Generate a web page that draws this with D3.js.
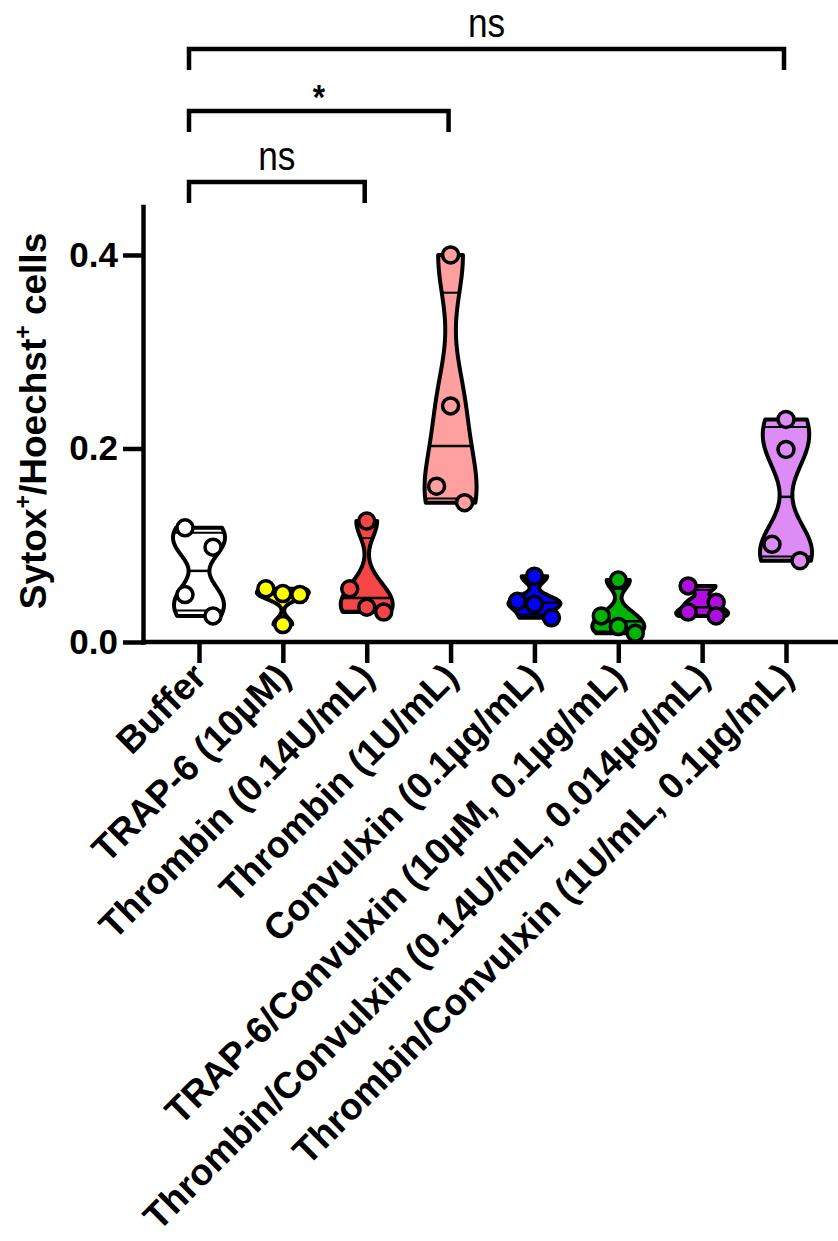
<!DOCTYPE html>
<html>
<head>
<meta charset="utf-8">
<script src="https://cdn.jsdelivr.net/npm/d3@7"></script>
<style>
  body { margin: 0; background: #fff; }
  svg { display: block; font-family: "Liberation Sans", Arial, sans-serif; }
</style>
</head>
<body>
<svg id="chart" width="838" height="1241"></svg>
<script>
// groups on the x axis
const categories = [
  "Buffer",
  "TRAP-6 (10µM)",
  "Thrombin (0.14U/mL)",
  "Thrombin (1U/mL)",
  "Convulxin (0.1µg/mL)",
  "TRAP-6/Convulxin (10µM, 0.1µg/mL)",
  "Thrombin/Convulxin (0.14U/mL, 0.014µg/mL)",
  "Thrombin/Convulxin (1U/mL, 0.1µg/mL)"
];
const fills = ["#ffffff", "#ffff00", "#f54545", "#ffa0a0", "#0000ff", "#00b400", "#b00ee0", "#dd8cf5"];

// Sytox+/Hoechst+ fraction per replicate
const buffer       = [0.118, 0.098, 0.049, 0.027];
const trap6        = [0.055, 0.050, 0.049, 0.018];
const thrombinLow  = [0.125, 0.055, 0.036, 0.031];
const thrombinHigh = [0.400, 0.244, 0.161, 0.144];
const convulxin    = [0.068, 0.042, 0.039, 0.025];
const trapConv     = [0.064, 0.027, 0.016, 0.009];
const thrConvLow   = [0.058, 0.041, 0.031, 0.027];
const thrConvHigh  = [0.230, 0.199, 0.101, 0.084];
const groups = [buffer, trap6, thrombinLow, thrombinHigh, convulxin, trapConv, thrConvLow, thrConvHigh];

const yTicks = [0, 0.2, 0.4];

// significance brackets (all against Buffer)
const compTo    = ["Thrombin (0.14U/mL)", "Thrombin (1U/mL)", "Thrombin/Convulxin (1U/mL, 0.1µg/mL)"];
const compLabel = ["ns", "*", "ns"];

const svg = d3.select("#chart");
const x = d3.scalePoint().domain(categories).range([199, 786]);
const y = d3.scaleLinear().domain([0, 0.45]).range([642, 206.6]);
const maxHalf = 26;

// gaussian kde, truncated at min / max like Prism
function violinShape(vals) {
  const h = 0.38 * d3.deviation(vals);
  const lo = d3.min(vals), hi = d3.max(vals);
  const dens = v => d3.sum(vals, d => Math.exp(-0.5 * ((v - d) / h) ** 2));
  const grid = d3.range(0, 81).map(i => lo + (hi - lo) * i / 80);
  const dmax = d3.max(grid, dens);
  const w = v => dens(v) / dmax * maxHalf;
  return { grid, w };
}

function quantile(sorted, p) {
  // (n+1)p method, as Prism does
  const pos = (sorted.length + 1) * p - 1;
  const i = Math.floor(pos), f = pos - i;
  if (i < 0) return sorted[0];
  if (i >= sorted.length - 1) return sorted[sorted.length - 1];
  return sorted[i] + f * (sorted[i + 1] - sorted[i]);
}

// scatter offsets: points close in y share a row, spread left to right
function jitter(vals) {
  const sorted = vals.map((v, i) => ({ v, i })).sort((a, b) => b.v - a.v);
  const rows = [];
  sorted.forEach(p => {
    const last = rows[rows.length - 1];
    if (last && y(p.v) - y(last[0].v) < 25) last.push(p);
    else rows.push([p]);
  });
  const out = [];
  rows.forEach(r => {
    const step = r.length === 2 ? 28 : 17;
    r.forEach((p, k) => out.push({ v: p.v, dx: (k - (r.length - 1) / 2) * step }));
  });
  return out;
}

const plot = svg.append("g");

groups.forEach((vals, gi) => {
  const cx = x(categories[gi]);
  const shape = violinShape(vals);
  const g = plot.append("g").attr("transform", "translate(" + cx + ",0)");

  const area = d3.area()
    .y(d => y(d))
    .x0(d => -shape.w(d))
    .x1(d => shape.w(d))
    .curve(d3.curveBasis);

  g.append("path")
    .datum(shape.grid)
    .attr("d", area)
    .attr("fill", fills[gi])
    .attr("stroke", "#000")
    .attr("stroke-width", 4)
    .attr("stroke-linejoin", "round");

  const s = vals.slice().sort(d3.ascending);
  const stats = [quantile(s, 0.25), quantile(s, 0.5), quantile(s, 0.75)];
  g.selectAll(".q")
    .data(stats)
    .enter().append("line")
      .attr("x1", d => -shape.w(d))
      .attr("x2", d => shape.w(d))
      .attr("y1", d => y(d))
      .attr("y2", d => y(d))
      .attr("stroke", "#000")
      .attr("stroke-width", (d, i) => i === 1 ? 2.5 : 2);

  g.selectAll(".pt")
    .data(jitter(vals))
    .enter().append("circle")
      .attr("cx", d => d.dx)
      .attr("cy", d => y(d.v))
      .attr("r", 8)
      .attr("fill", fills[gi])
      .attr("stroke", "#000")
      .attr("stroke-width", 3.5);
});

// y axis
const yAxis = svg.append("g")
  .attr("transform", "translate(143,0)")
  .call(d3.axisLeft(y).tickValues(yTicks).tickSize(20).tickSizeOuter(0).tickPadding(5)
    .tickFormat(d3.format(".1f")));
yAxis.select(".domain").attr("stroke-width", 4.5).attr("stroke-linecap", "square");
yAxis.selectAll(".tick line").attr("stroke-width", 4.5);
yAxis.selectAll("text")
  .attr("font-size", 35).attr("font-weight", "bold").attr("fill", "#000")
  .attr("font-family", "Liberation Sans, Arial, sans-serif");

// x axis
const xAxis = svg.append("g")
  .attr("transform", "translate(0,642)")
  .call(d3.axisBottom(x).tickSize(21).tickSizeOuter(0));
xAxis.select(".domain").remove();
xAxis.append("line")
  .attr("x1", 141).attr("x2", 838)
  .attr("stroke", "#000").attr("stroke-width", 4.5);
xAxis.selectAll(".tick line").attr("stroke-width", 4.5);
xAxis.selectAll("text")
  .attr("x", 0).attr("y", 0).attr("dy", 0)
  .attr("transform", "translate(9,37) rotate(-45)")
  .style("text-anchor", "end")
  .attr("font-size", 37).attr("font-weight", "bold").attr("fill", "#000")
  .attr("font-family", "Liberation Sans, Arial, sans-serif");

// y title
const title = svg.append("text")
  .attr("transform", "translate(46,421) rotate(-90)")
  .attr("text-anchor", "middle")
  .attr("font-size", 37)
  .attr("font-weight", "bold");
title.append("tspan").text("Sytox");
title.append("tspan").text("+").attr("font-size", 23).attr("dy", -15);
title.append("tspan").text("/Hoechst").attr("dy", 15);
title.append("tspan").text("+").attr("font-size", 23).attr("dy", -15);
title.append("tspan").text(" cells").attr("dy", 15);

// brackets
const levels = [182, 111, 49];
compTo.forEach((to, i) => {
  const x1 = x("Buffer") - 10, x2 = x(to) - 2, ly = levels[i];
  svg.append("path")
    .attr("d", "M" + x1 + "," + (ly + 21) + "V" + ly + "H" + x2 + "V" + (ly + 21))
    .attr("fill", "none")
    .attr("stroke", "#000")
    .attr("stroke-width", 4.5);
  const star = compLabel[i] === "*";
  svg.append("text")
    .attr("transform", "translate(" + ((x1 + x2) / 2) + "," + (star ? ly - 2 : ly - 12) + ") scale(0.88,1)")
    .attr("text-anchor", "middle")
    .attr("font-size", star ? 36 : 40)
    .attr("font-weight", star ? "bold" : "normal")
    .text(compLabel[i]);
});
</script>
</body>
</html>
